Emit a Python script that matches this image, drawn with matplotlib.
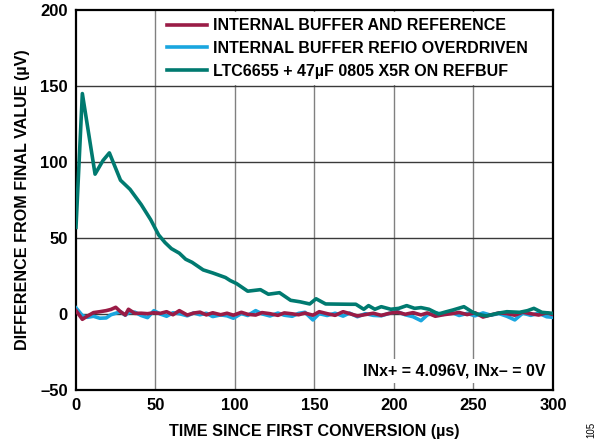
import matplotlib
matplotlib.use("Agg")
import matplotlib.pyplot as plt

plt.rcParams['font.family'] = ['Liberation Sans', 'DejaVu Sans']
plt.rcParams['font.weight'] = 'bold'

# Data
ltc_t = [0, 4, 12, 17, 21, 28, 34, 41, 47, 52, 56, 60, 65, 69, 73, 80, 86, 94, 97, 101, 108, 116,
         121, 128, 135, 141, 147, 151, 157, 164, 172, 176, 181, 184, 188, 192, 198, 203, 208, 213,
         217, 222, 228, 233, 237, 244, 249, 252, 258, 265, 271, 279, 284, 288, 293, 300]
ltc_v = [57, 145, 92, 101, 106, 88, 82, 72, 62, 52, 47, 43, 40, 36, 34, 29, 27, 24, 22, 20, 15, 16,
         13, 14, 9, 8, 6.6, 10, 6.6, 6.5, 6.4, 6.4, 3.1, 5.5, 3.1, 4.8, 3.1, 3.7, 5.5, 3.7,
         4.2, 3.1, 0, 1.5, 2.6, 4.8, 1.5, 0, -1.3, 0.4, 1.5, 1.1, 2.2, 3.7, 1.1, 0.4]

noise_t = [0, 4, 7, 11, 15, 19, 22, 25, 28, 31, 33, 37, 41, 45, 49, 53, 57, 61, 65, 70, 74, 78, 82,
           86, 91, 95, 99, 104, 108, 113, 117, 122, 127, 131, 136, 140, 144, 149, 153, 158, 163,
           168, 172, 177, 182, 187, 192, 197, 202, 207, 212, 217, 221, 226, 231, 236, 241, 246,
           251, 256, 261, 266, 271, 276, 281, 286, 291, 296, 300]
red_v = [2.2, -3.5, -1.5, 0.9, 1.5, 2.2, 3.0, 4.4, 1.5, -0.7, 3.1, 0.4, 0.5, 0.2, 0.8, 0.4, 1.5,
         -0.5, 2.2, -0.7, 0.6, 1.2, -0.6, 0.8, -0.5, 0.5, -0.8, 1.1, -0.2, -0.7, 0.9, 0.2, -0.9,
         0.7, 0.1, -0.5, 0.6, -0.8, 1.5, 0.2, -0.9, 1.5, 0.3, -1.3, -0.4, 0.5, -0.9, 0.4, 1.3,
         -0.2, 0.9, -0.6, 0.7, -1.5, -0.5, 0.2, 1.0, -0.4, 0.8, -2.0, -0.6, 0.7, 0.3, -0.8, 1.2,
         0.2, -0.7, 0.8, -0.4]
blue_v = [4.0, -1.0, -2.2, -1.5, -2.8, -2.6, -0.5, 0.5, 1.5, -0.8, 0.9, 1.2, -1.0, -2.4, 2.2, 0.0,
          -1.5, 0.8, 0.2, -1.2, 0.7, -0.5, 0.5, -1.7, -0.6, -1.2, -2.8, 0.3, -1.0, 2.2, 0.1, -1.3,
          0.6, -0.8, -1.5, 0.4, 1.1, -3.9, 0.2, -1.0, 0.5, -1.4, 0.6, -1.8, 0.2, -0.9, -1.2, 0.4,
          1.6, -0.5, -1.8, -4.4, -0.6, 0.8, -0.3, 1.2, -1.0, 0.4, -1.2, 0.7, -0.8, 0.3, -1.5, -3.9,
          0.6, -0.9, 0.5, -1.8, -2.2]

labels = ['INTERNAL BUFFER AND REFERENCE', 'INTERNAL BUFFER REFIO OVERDRIVEN',
          'LTC6655 + 47µF 0805 X5R ON REFBUF']
colors = ['#9A1C46', '#1AA6DF', '#007A70']


fig = plt.figure(figsize=(6.05, 4.46), dpi=100)
ax = fig.add_axes([0.1256, 0.1256, 0.7884, 0.852])

ax.plot(noise_t, blue_v, color=colors[1], lw=2.6, zorder=3)
ax.plot(noise_t, red_v, color=colors[0], lw=2.6, zorder=4)
ax.plot(ltc_t, ltc_v, color=colors[2], lw=2.6, zorder=5)

ax.set_xlim(0, 300)
ax.set_ylim(-50, 200)
ax.set_xticks(range(0, 301, 50))
ax.set_yticks(range(-50, 201, 50))
ax.set_yticklabels(['–50', '0', '50', '100', '150', '200'])
for x in range(50, 300, 50):
    ax.axvline(x, color='#808080', lw=1.0, zorder=1)
for y in range(0, 200, 50):
    ax.axhline(y, color='#3a3a3a', lw=1.0, zorder=1)
ax.tick_params(length=0, pad=6, labelsize=12)
for s in ax.spines.values():
    s.set_linewidth(1.6)

ax.set_xlabel('TIME SINCE FIRST CONVERSION (µs)', fontsize=11.6, fontweight='bold', labelpad=8)
ax.set_ylabel('DIFFERENCE FROM FINAL VALUE (µV)', fontsize=11.6, fontweight='bold', labelpad=7)

# legend (white box covering the grid)
handles = [plt.Line2D([], [], color=c, lw=2.6) for c in colors]
leg = ax.legend(handles, labels, loc='upper left', bbox_to_anchor=(0.177, 0.995), frameon=True,
                fontsize=11.5, handlelength=2.5, handletextpad=0.37, labelspacing=0.48,
                borderpad=0.4, borderaxespad=0)
leg.get_frame().set_edgecolor('none')
leg.get_frame().set_facecolor('white')
leg.get_frame().set_alpha(1)
leg.set_zorder(10)

ax.text(0.985, 0.05, 'INx+ = 4.096V, INx– = 0V', transform=ax.transAxes, ha='right',
        va='center', fontsize=11.5, fontweight='bold', zorder=10,
        bbox=dict(facecolor='white', edgecolor='none', pad=3))

fig.text(0.978, 0.035, '105', rotation=90, fontsize=7, fontweight='normal', ha='center', va='center')

fig.savefig('out.png', dpi=100)
